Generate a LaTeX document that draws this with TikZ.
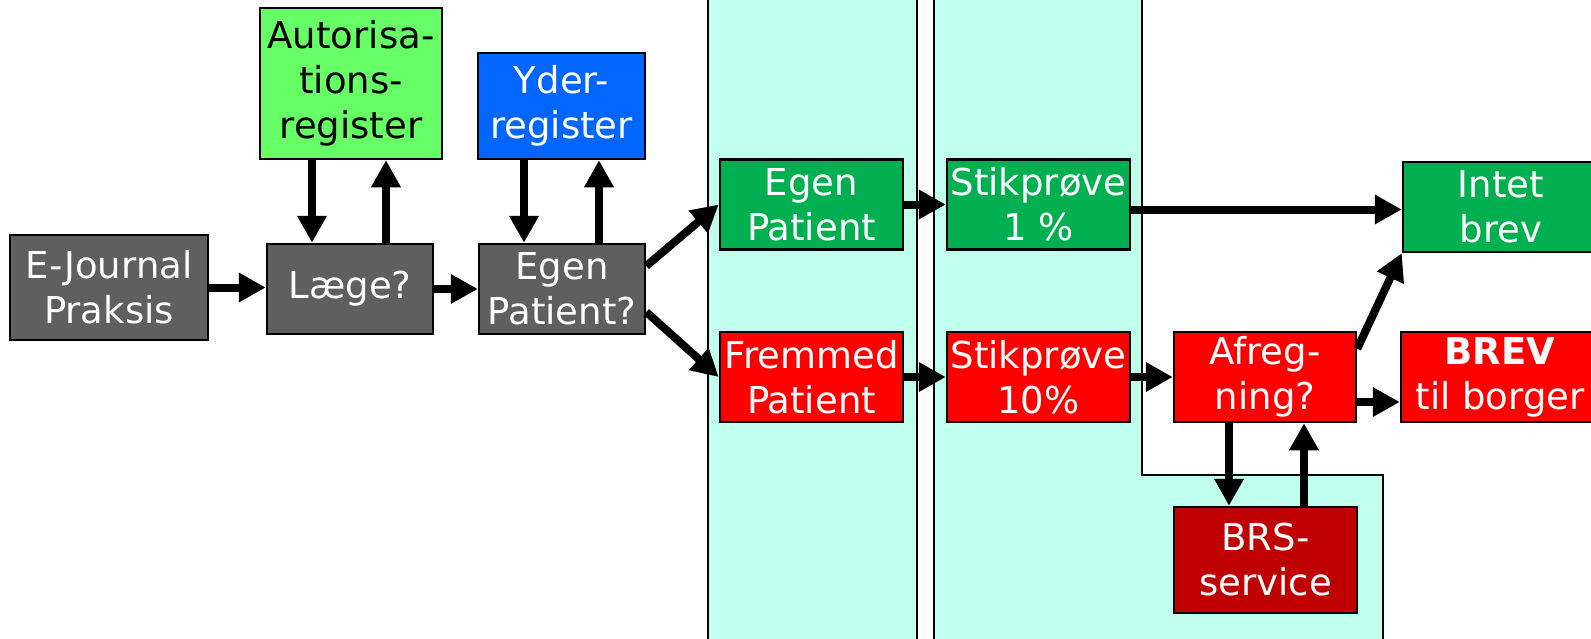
\documentclass[tikz,border=0pt]{standalone}
\usepackage{fontspec}
\setmainfont{DejaVu Sans}
\usetikzlibrary{arrows.meta}
\definecolor{cgray}{HTML}{5F5F5F}
\definecolor{lgreen}{HTML}{66FF66}
\definecolor{cblue}{HTML}{0066FF}
\definecolor{cgreen}{HTML}{00B050}
\definecolor{cred}{HTML}{FF0000}
\definecolor{dred}{HTML}{C00000}
\definecolor{ccyan}{HTML}{C0FFEC}
\begin{document}
\begin{tikzpicture}[x=1pt,y=-1pt,
  box/.style={draw=black, line width=2.5pt, inner sep=0pt, align=center, text=white,
    font=\fontsize{37}{45}\selectfont},
  rowbox/.style={box, minimum width=183pt, minimum height=90pt},
  arr/.style={line width=8pt, -{Triangle[length=27pt,width=28pt]}},
  col/.style={fill=ccyan, draw=black, line width=2pt}]
\clip (0,0) rectangle (1591,638);
% columns
\path[col] (708,-10) rectangle (917,660);
\path[col] (934,-10) -- (1142,-10) -- (1142,475) -- (1383,475) -- (1383,660) -- (934,660) -- cycle;
% boxes
\node[box, fill=cgray, minimum width=198pt, minimum height=105pt] (ej) at (109,287.5) {E-Journal\\Praksis};
\node[box, fill=cgray, minimum width=166pt, minimum height=90pt] (lg) at (350,289) {Læge?};
\node[box, fill=cgray, minimum width=166pt, minimum height=90pt] (ep) at (562,289) {Egen\\Patient?};
\node[box, fill=lgreen, text=black, minimum width=182pt, minimum height=151pt] (aut) at (351,83.5) {Autorisa-\\tions-\\register};
\node[box, fill=cblue, minimum width=167pt, minimum height=106pt] (yd) at (561.5,106) {Yder-\\register};
\node[rowbox, fill=cgreen] (egp) at (811.5,204.5) {Egen\\Patient};
\node[rowbox, fill=cgreen] (s1) at (1038.5,204.5) {Stikprøve\\1 \%};
\node[rowbox, fill=cgreen, minimum width=196pt] (in) at (1501,207) {Intet\\brev};
\node[rowbox, fill=cred] (fp) at (811.5,377) {Fremmed\\Patient};
\node[rowbox, fill=cred] (s10) at (1038.5,377) {Stikprøve\\10\%};
\node[rowbox, fill=cred, minimum width=182pt] (af) at (1265,377) {Afreg-\\ning?};
\node[rowbox, fill=cred, minimum width=198pt] (br) at (1500,377) {{\bfseries BREV}\\til borger};
\node[rowbox, fill=dred, minimum height=106pt] (brs) at (1265.5,560) {BRS-\\service};
% arrow x positions
\coordinate (xa) at (312,0);
\coordinate (xb) at (386,0);
\coordinate (xc) at (524,0);
\coordinate (xd) at (599,0);
\coordinate (xe) at (1229,0);
\coordinate (xf) at (1304,0);
% arrows
\draw[arr] (ej.east) -- (ej.east -| lg.west);
\draw[arr] (lg.east) -- (ep.west);
\draw[arr] (aut.south -| xa) -- (lg.north -| xa);
\draw[arr] (lg.north -| xb) -- (aut.south -| xb);
\draw[arr] (yd.south -| xc) -- (ep.north -| xc);
\draw[arr] (ep.north -| xd) -- (yd.south -| xd);
\draw[arr] ([yshift=23pt]ep.east) -- (egp.west);
\draw[arr] ([yshift=-23pt]ep.east) -- (fp.west);
\draw[arr] (egp.east) -- (s1.west);
\draw[arr] ([yshift=-5pt]s1.east) -- ([yshift=-5pt]s1.east -| in.west);
\draw[arr] (fp.east) -- (s10.west);
\draw[arr] (s10.east) -- (af.west);
\draw[arr] ([yshift=-18pt]af.north east) -- (in.south west);
\draw[arr] ([yshift=-25pt]af.east) -- ([yshift=-25pt]br.west);
\draw[arr] (af.south -| xe) -- (brs.north -| xe);
\draw[arr] (brs.north -| xf) -- (af.south -| xf);
\end{tikzpicture}
\end{document}
